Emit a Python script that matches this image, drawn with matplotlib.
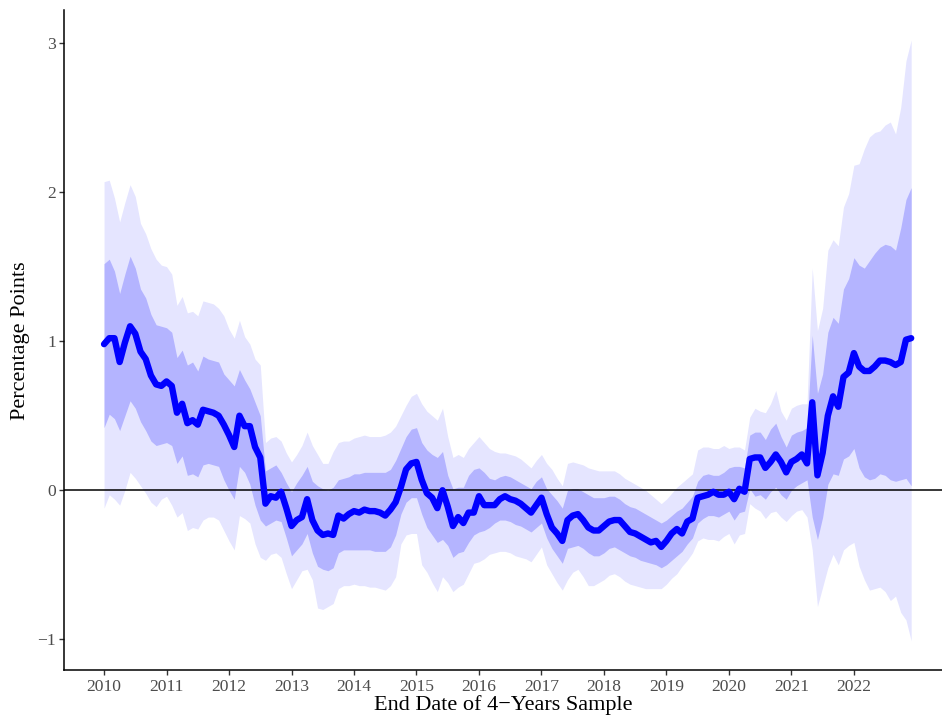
import numpy as np
import matplotlib
matplotlib.use("Agg")
import matplotlib.pyplot as plt

# ====== Data (monthly, Jan 2010 - Dec 2022) ======
start_year = 2010
n_months = 156

center = [
    0.98, 1.02, 1.02, 0.86, 0.99, 1.10, 1.05, 0.93, 0.88, 0.77, 0.71, 0.70,
    0.73, 0.70, 0.52, 0.58, 0.45, 0.47, 0.44, 0.54, 0.53, 0.52, 0.50, 0.44,
    0.37, 0.29, 0.50, 0.43, 0.43, 0.29, 0.22, -0.09, -0.04, -0.05, -0.01, -0.12,
    -0.24, -0.20, -0.18, -0.06, -0.20, -0.27, -0.30, -0.29, -0.30, -0.17, -0.19, -0.16,
    -0.14, -0.15, -0.13, -0.14, -0.14, -0.15, -0.17, -0.13, -0.08, 0.02, 0.14, 0.18,
    0.19, 0.07, -0.02, -0.05, -0.12, 0.00, -0.11, -0.24, -0.18, -0.22, -0.15, -0.15,
    -0.04, -0.10, -0.10, -0.10, -0.06, -0.04, -0.06, -0.07, -0.09, -0.12, -0.15, -0.10,
    -0.05, -0.16, -0.25, -0.29, -0.34, -0.20, -0.17, -0.16, -0.20, -0.25, -0.27, -0.27,
    -0.24, -0.21, -0.20, -0.20, -0.24, -0.28, -0.29, -0.31, -0.33, -0.35, -0.34, -0.38,
    -0.34, -0.29, -0.26, -0.29, -0.21, -0.19, -0.05, -0.04, -0.03, -0.01, -0.03, -0.03,
    -0.01, -0.06, 0.01, -0.01, 0.21, 0.22, 0.22, 0.15, 0.19, 0.24, 0.19, 0.12,
    0.19, 0.21, 0.24, 0.18, 0.59, 0.10, 0.25, 0.50, 0.63, 0.56, 0.76, 0.79,
    0.92, 0.83, 0.80, 0.80, 0.83, 0.87, 0.87, 0.86, 0.84, 0.86, 1.01, 1.02,
]

inner_hi = [
    1.52, 1.55, 1.47, 1.32, 1.45, 1.57, 1.49, 1.35, 1.29, 1.18, 1.11, 1.10,
    1.09, 1.06, 0.89, 0.94, 0.84, 0.86, 0.80, 0.90, 0.88, 0.87, 0.86, 0.78,
    0.74, 0.70, 0.81, 0.74, 0.68, 0.59, 0.50, 0.13, 0.15, 0.17, 0.12, 0.05,
    -0.01, 0.05, 0.10, 0.16, 0.06, 0.03, 0.01, 0.00, 0.02, 0.07, 0.08, 0.09,
    0.11, 0.11, 0.12, 0.12, 0.12, 0.12, 0.12, 0.14, 0.20, 0.28, 0.36, 0.41,
    0.42, 0.32, 0.27, 0.24, 0.22, 0.26, 0.10, 0.01, 0.02, 0.02, 0.10, 0.14,
    0.15, 0.12, 0.08, 0.07, 0.09, 0.10, 0.09, 0.07, 0.05, 0.03, 0.01, 0.06,
    0.09, 0.01, -0.03, -0.07, -0.12, 0.00, 0.01, 0.01, -0.01, -0.03, -0.05, -0.05,
    -0.05, -0.04, -0.04, -0.06, -0.09, -0.11, -0.12, -0.14, -0.16, -0.18, -0.20, -0.22,
    -0.20, -0.17, -0.14, -0.12, -0.08, -0.04, 0.06, 0.10, 0.11, 0.10, 0.10, 0.12,
    0.15, 0.16, 0.16, 0.15, 0.37, 0.39, 0.39, 0.34, 0.41, 0.45, 0.36, 0.29,
    0.37, 0.39, 0.40, 0.42, 1.04, 0.65, 0.78, 1.06, 1.16, 1.12, 1.35, 1.42,
    1.56, 1.51, 1.49, 1.54, 1.59, 1.63, 1.65, 1.64, 1.61, 1.76, 1.95, 2.03,
]

inner_lo = [
    0.42, 0.51, 0.48, 0.40, 0.50, 0.60, 0.55, 0.46, 0.40, 0.33, 0.30, 0.31,
    0.32, 0.30, 0.18, 0.23, 0.10, 0.11, 0.09, 0.17, 0.18, 0.17, 0.16, 0.07,
    0.00, -0.06, 0.16, 0.12, 0.04, -0.10, -0.20, -0.24, -0.22, -0.20, -0.21, -0.32,
    -0.44, -0.40, -0.36, -0.29, -0.42, -0.51, -0.53, -0.54, -0.52, -0.42, -0.40, -0.40,
    -0.40, -0.40, -0.40, -0.40, -0.41, -0.41, -0.41, -0.38, -0.30, -0.16, -0.08, -0.05,
    -0.05, -0.16, -0.25, -0.30, -0.35, -0.33, -0.37, -0.45, -0.42, -0.41, -0.35, -0.30,
    -0.28, -0.27, -0.25, -0.22, -0.20, -0.20, -0.21, -0.23, -0.24, -0.26, -0.28, -0.25,
    -0.22, -0.32, -0.39, -0.44, -0.49, -0.39, -0.38, -0.37, -0.39, -0.42, -0.44, -0.44,
    -0.42, -0.39, -0.38, -0.40, -0.42, -0.44, -0.45, -0.47, -0.48, -0.49, -0.50, -0.52,
    -0.50, -0.47, -0.44, -0.41, -0.36, -0.32, -0.22, -0.19, -0.17, -0.17, -0.18, -0.16,
    -0.14, -0.20, -0.15, -0.14, 0.01, -0.04, -0.03, -0.06, -0.01, 0.02, -0.03, -0.06,
    0.00, 0.03, 0.05, 0.07, -0.18, -0.33, -0.18, 0.04, 0.11, 0.10, 0.21, 0.23,
    0.28, 0.15, 0.09, 0.07, 0.08, 0.11, 0.10, 0.07, 0.06, 0.07, 0.08, 0.03,
]

outer_hi = [
    2.07, 2.08, 1.96, 1.80, 1.93, 2.05, 1.97, 1.79, 1.72, 1.62, 1.55, 1.51,
    1.50, 1.45, 1.24, 1.30, 1.19, 1.20, 1.17, 1.27, 1.26, 1.25, 1.22, 1.17,
    1.08, 1.02, 1.14, 1.03, 0.98, 0.88, 0.84, 0.32, 0.35, 0.36, 0.33, 0.25,
    0.19, 0.24, 0.30, 0.39, 0.30, 0.24, 0.18, 0.18, 0.26, 0.32, 0.33, 0.33,
    0.35, 0.36, 0.37, 0.36, 0.36, 0.36, 0.37, 0.39, 0.43, 0.50, 0.57, 0.63,
    0.65, 0.58, 0.53, 0.50, 0.47, 0.55, 0.36, 0.22, 0.24, 0.22, 0.28, 0.32,
    0.36, 0.32, 0.28, 0.26, 0.25, 0.25, 0.24, 0.23, 0.21, 0.18, 0.15, 0.20,
    0.24, 0.18, 0.14, 0.08, 0.03, 0.18, 0.19, 0.18, 0.17, 0.15, 0.14, 0.13,
    0.13, 0.13, 0.13, 0.11, 0.08, 0.06, 0.04, 0.02, 0.00, -0.03, -0.06, -0.09,
    -0.06, -0.02, 0.02, 0.05, 0.08, 0.11, 0.27, 0.29, 0.29, 0.28, 0.28, 0.30,
    0.28, 0.29, 0.29, 0.27, 0.49, 0.55, 0.53, 0.52, 0.58, 0.67, 0.53, 0.47,
    0.55, 0.57, 0.58, 0.58, 1.49, 1.07, 1.22, 1.61, 1.68, 1.64, 1.90, 1.99,
    2.18, 2.19, 2.29, 2.37, 2.40, 2.41, 2.45, 2.47, 2.39, 2.57, 2.88, 3.02,
]

outer_lo = [
    -0.12, -0.03, -0.06, -0.10, 0.00, 0.12, 0.08, 0.03, -0.02, -0.08, -0.11, -0.06,
    -0.04, -0.10, -0.18, -0.15, -0.27, -0.25, -0.26, -0.20, -0.18, -0.18, -0.20, -0.27,
    -0.34, -0.40, -0.17, -0.19, -0.22, -0.36, -0.45, -0.47, -0.43, -0.42, -0.45, -0.56,
    -0.66, -0.60, -0.54, -0.53, -0.60, -0.79, -0.80, -0.78, -0.76, -0.66, -0.64, -0.64,
    -0.63, -0.64, -0.64, -0.65, -0.65, -0.66, -0.67, -0.64, -0.58, -0.36, -0.30, -0.29,
    -0.29, -0.50, -0.55, -0.62, -0.68, -0.58, -0.62, -0.68, -0.65, -0.63, -0.56, -0.49,
    -0.48, -0.46, -0.43, -0.42, -0.41, -0.41, -0.42, -0.44, -0.45, -0.46, -0.48, -0.43,
    -0.38, -0.50, -0.56, -0.62, -0.67, -0.60, -0.55, -0.53, -0.58, -0.64, -0.64, -0.62,
    -0.60, -0.57, -0.56, -0.58, -0.61, -0.63, -0.64, -0.65, -0.66, -0.66, -0.66, -0.66,
    -0.63, -0.59, -0.56, -0.51, -0.47, -0.42, -0.34, -0.32, -0.33, -0.33, -0.34, -0.31,
    -0.29, -0.36, -0.30, -0.29, -0.09, -0.12, -0.14, -0.19, -0.15, -0.14, -0.18, -0.21,
    -0.17, -0.14, -0.13, -0.18, -0.40, -0.78, -0.65, -0.52, -0.43, -0.50, -0.40, -0.37,
    -0.35, -0.51, -0.60, -0.67, -0.66, -0.65, -0.68, -0.74, -0.71, -0.82, -0.87, -1.01,
]

year_ticks = list(range(2010, 2023))
y_ticks = [-1, 0, 1, 2, 3]

# ====== Plot ======
dates = start_year + np.arange(n_months) / 12.0

plt.rcParams["font.family"] = ["Liberation Serif", "DejaVu Serif"]

fig = plt.figure(figsize=(9.42, 7.2), dpi=100)
ax = fig.add_axes([0.068, 0.069, 0.932, 0.917])

ax.fill_between(dates, outer_lo, outer_hi, color="#E5E5FF", linewidth=0, zorder=1)
ax.fill_between(dates, inner_lo, inner_hi, color="#B4B4FF", linewidth=0, zorder=2)
ax.axhline(0, color="black", linewidth=1.1, zorder=3)
ax.plot(dates, center, color="#0000FF", linewidth=4.6, solid_joinstyle="round",
        solid_capstyle="round", zorder=4)

ax.set_xlim(2009.36, 2023.41)
ax.set_ylim(-1.208, 3.221)
ax.set_xticks(year_ticks)
ax.set_xticklabels([str(y) for y in year_ticks])
ax.set_yticks(y_ticks)
ax.set_yticklabels(["\u22121", "0", "1", "2", "3"])

for side in ["top", "right"]:
    ax.spines[side].set_visible(False)
for side in ["left", "bottom"]:
    ax.spines[side].set_linewidth(1.1)
ax.tick_params(axis="both", length=3.5, width=1.0, color="#333333",
               labelsize=12.6, labelcolor="#4D4D4D", pad=2.5)

ax.set_xlabel("End Date of 4\u2212Years Sample", fontsize=16, labelpad=0)
ax.set_ylabel("Percentage Points", fontsize=16, labelpad=5)

fig.savefig("out.png", dpi=100)
plt.close(fig)
